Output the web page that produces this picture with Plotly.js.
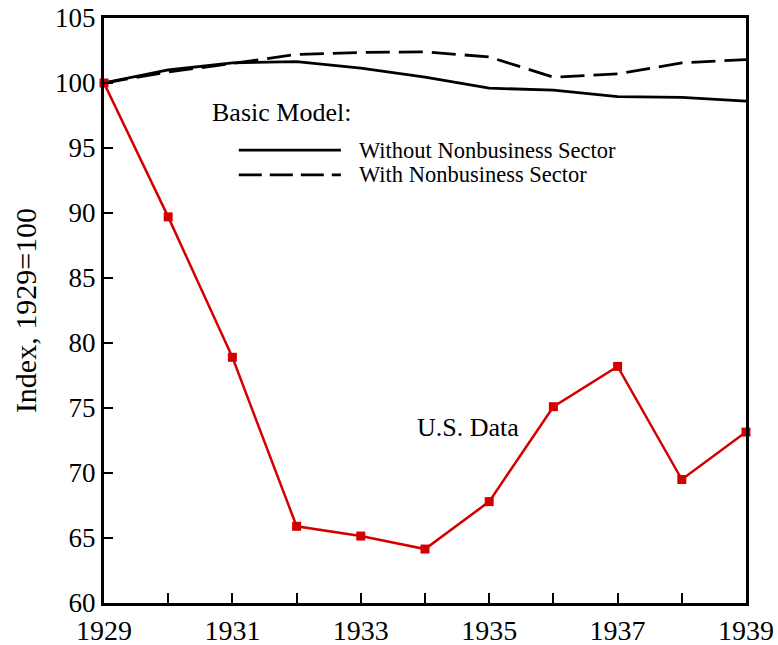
<!DOCTYPE html>
<html>
<head>
<meta charset="utf-8">
<script src="https://cdn.plot.ly/plotly-3.0.1.min.js"></script>
<style>html,body{margin:0;padding:0;background:#fff;}#chart{width:778px;height:645px;}</style>
</head>
<body>
<div id="chart"></div>
<script>
const years = [1929,1930,1931,1932,1933,1934,1935,1936,1937,1938,1939];
const usData = [100,89.7,78.9,65.9,65.15,64.15,67.8,75.1,78.2,69.5,73.15];
const withoutNonbusiness = [100,101.0,101.55,101.65,101.15,100.45,99.6,99.45,98.95,98.9,98.6];
const withNonbusiness = [100,100.85,101.5,102.2,102.35,102.4,102.0,100.45,100.7,101.55,101.8];
const xTickVals = years;
const xTickText = ["1929","","1931","","1933","","1935","","1937","","1939"];
const yTickVals = [60,65,70,75,80,85,90,95,100,105];

const font = "'Liberation Serif', 'Times New Roman', serif";

const traces = [
  {x: years, y: withoutNonbusiness, mode: "lines", line: {color: "#000", width: 2.8}, showlegend: false},
  {x: years, y: withNonbusiness, mode: "lines", line: {color: "#000", width: 2.8, dash: "24px,9px"}, showlegend: false},
  {x: years, y: usData, mode: "lines+markers", line: {color: "#d40000", width: 2.5},
   marker: {symbol: "square", size: 9, color: "#d40000"}, showlegend: false, cliponaxis: false}
];

const layout = {
  width: 778, height: 645,
  margin: {l: 104, r: 32, t: 18, b: 42},
  paper_bgcolor: "#fff", plot_bgcolor: "#fff",
  font: {family: font, color: "#000"},
  xaxis: {
    range: [1929, 1939], tickmode: "array", tickvals: xTickVals, ticktext: xTickText,
    ticks: "inside", ticklen: 10, tickwidth: 2, tickcolor: "#000",
    showline: true, linewidth: 3, linecolor: "#000", mirror: true,
    showgrid: false, zeroline: false, tickfont: {size: 28, family: font}
  },
  yaxis: {
    range: [60, 105], tickmode: "array", tickvals: yTickVals,
    ticks: "inside", ticklen: 9, tickwidth: 2, tickcolor: "#000",
    showline: true, linewidth: 3, linecolor: "#000", mirror: true,
    showgrid: false, zeroline: false, tickfont: {size: 27, family: font},
    title: {text: "Index, 1929=100", font: {size: 30, family: font}, standoff: 10}
  },
  shapes: [
    {type: "line", xref: "paper", yref: "paper", x0: 0.21, x1: 0.369, y0: 0.774, y1: 0.774, line: {color: "#000", width: 2.8}},
    {type: "line", xref: "paper", yref: "paper", x0: 0.21, x1: 0.369, y0: 0.732, y1: 0.732, line: {color: "#000", width: 2.8, dash: "23px,8px"}}
  ],
  annotations: [
    {xref: "paper", yref: "paper", x: 0.165, y: 0.838, xanchor: "left", yanchor: "middle", text: "Basic Model:", showarrow: false, font: {size: 26, family: font}},
    {xref: "paper", yref: "paper", x: 0.394, y: 0.774, xanchor: "left", yanchor: "middle", text: "Without Nonbusiness Sector", showarrow: false, font: {size: 22.5, family: font}},
    {xref: "paper", yref: "paper", x: 0.394, y: 0.732, xanchor: "left", yanchor: "middle", text: "With Nonbusiness Sector", showarrow: false, font: {size: 22.5, family: font}},
    {xref: "x", yref: "y", x: 1933.84, y: 73.5, xanchor: "left", yanchor: "middle", text: "U.S. Data", showarrow: false, font: {size: 26, family: font}}
  ]
};

Plotly.newPlot("chart", traces, layout, {displayModeBar: false, staticPlot: true});
</script>
</body>
</html>
